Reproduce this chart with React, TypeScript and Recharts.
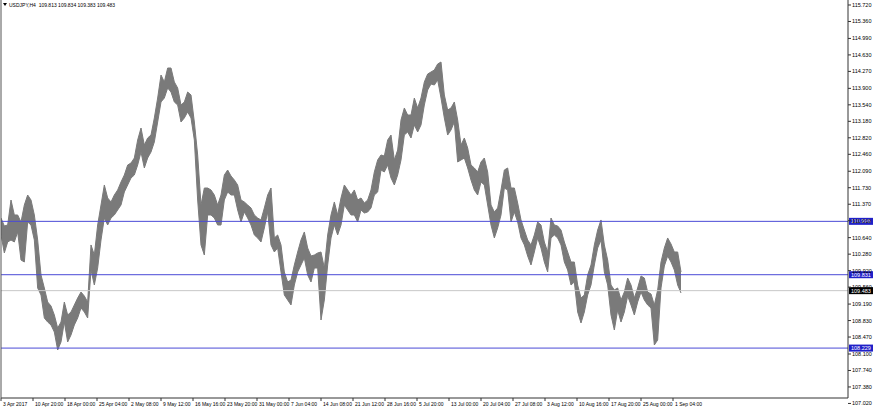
import React from 'react';
import { ComposedChart, Area, XAxis, YAxis, ReferenceLine } from 'recharts';

// each point = one 12h slice of the H4 chart (high / low of the slice)
const highs = [
    111.069, 110.895, 110.916, 111.462, 111.135, 111.135, 110.982, 111.353, 111.571, 111.462,
    111.135, 110.589, 109.825, 109.541, 109.235, 109.148, 108.951, 108.667, 108.798, 109.235,
    108.951, 109.017, 109.170, 109.322, 109.453, 109.366, 109.235, 110.480, 110.261, 110.916,
    111.353, 111.790, 111.506, 111.419, 111.571, 111.681, 111.855, 112.008, 112.226, 112.270,
    112.379, 112.772, 113.034, 112.663, 112.816, 112.881, 113.253, 113.689, 114.191, 114.039,
    114.344, 114.344, 114.039, 113.908, 113.536, 113.602, 113.820, 113.755, 113.165, 112.445,
    111.353, 111.724, 111.724, 111.681, 111.571, 111.353, 111.571, 112.008, 112.117, 111.986,
    111.899, 111.790, 111.462, 111.419, 111.353, 111.288, 111.135, 111.069, 111.026, 111.288,
    111.571, 111.724, 110.633, 110.698, 110.480, 109.890, 109.672, 109.715, 110.043, 110.327,
    110.589, 110.764, 110.414, 110.239, 110.261, 110.305, 110.327, 109.977, 110.698, 111.135,
    111.419, 111.135, 111.506, 111.790, 111.681, 111.571, 111.681, 111.462, 111.506, 111.397,
    111.462, 111.681, 112.074, 112.336, 112.445, 112.423, 112.772, 112.881, 112.336, 112.554,
    113.209, 113.471, 113.318, 113.318, 113.689, 113.471, 113.689, 114.039, 114.213, 114.257,
    114.301, 114.432, 114.475, 113.755, 113.427, 113.471, 113.602, 113.209, 112.663, 112.816,
    112.598, 112.226, 112.161, 112.074, 112.292, 112.379, 112.074, 111.353, 111.200, 111.288,
    111.681, 112.117, 112.161, 111.724, 111.724, 111.397, 111.026, 110.807, 110.589, 110.480,
    110.698, 110.982, 110.916, 110.545, 110.327, 111.069, 110.916, 110.895, 110.807, 110.545,
    110.327, 110.108, 110.108, 109.606, 109.322, 109.388, 109.825, 110.043, 110.480, 110.807,
    111.026, 110.480, 110.152, 109.606, 109.497, 109.541, 109.279, 109.453, 109.759, 109.606,
    109.322, 109.541, 109.803, 109.759, 109.453, 109.410, 109.170, 109.497, 110.108, 110.414,
    110.633, 110.502, 110.327, 110.327, 109.890,
];

const lows = [
    110.698, 110.305, 110.545, 110.589, 110.545, 110.764, 110.152, 110.108, 110.982, 110.916,
    110.589, 109.541, 109.388, 108.886, 108.798, 108.733, 108.580, 108.187, 108.362, 108.798,
    108.362, 108.515, 108.733, 108.886, 109.104, 109.017, 108.886, 109.934, 109.606, 109.977,
    110.589, 111.069, 110.916, 111.069, 111.135, 111.244, 111.353, 111.637, 111.790, 111.943,
    112.008, 112.226, 112.510, 112.161, 112.379, 112.510, 112.729, 113.165, 113.602, 113.689,
    113.908, 113.820, 113.602, 113.536, 113.165, 113.253, 113.384, 113.253, 112.772, 111.462,
    110.480, 110.261, 111.135, 111.135, 111.069, 110.916, 110.916, 111.462, 111.637, 111.571,
    111.571, 111.244, 110.982, 111.200, 111.069, 110.916, 110.698, 110.633, 110.545, 110.851,
    111.200, 110.480, 110.327, 110.414, 109.890, 109.388, 109.279, 109.170, 109.606, 109.890,
    110.043, 110.196, 109.825, 109.672, 109.977, 109.977, 108.842, 109.279, 110.043, 110.633,
    110.916, 110.698, 110.916, 111.353, 111.244, 111.135, 111.135, 110.982, 111.244, 111.178,
    111.200, 111.288, 111.571, 111.637, 112.117, 112.074, 112.226, 111.943, 111.790, 112.008,
    112.336, 112.881, 112.947, 112.816, 113.100, 112.947, 113.100, 113.536, 113.864, 113.995,
    113.973, 114.082, 113.689, 113.253, 112.881, 112.991, 113.165, 112.292, 112.336, 112.379,
    112.161, 111.899, 111.681, 111.571, 111.855, 111.790, 111.353, 110.916, 110.633, 110.851,
    111.135, 111.724, 111.681, 110.982, 111.200, 110.982, 110.633, 110.480, 110.239, 110.043,
    110.327, 110.633, 110.414, 110.108, 109.890, 110.633, 110.698, 110.633, 110.480, 110.108,
    109.934, 109.606, 109.672, 109.017, 108.777, 109.017, 109.388, 109.606, 110.043, 110.414,
    110.589, 109.890, 109.606, 108.951, 108.624, 109.060, 108.798, 109.017, 109.366, 109.170,
    108.951, 109.235, 109.453, 109.279, 109.170, 109.104, 108.296, 108.405, 109.541, 110.021,
    110.239, 110.108, 109.934, 109.606, 109.432,
];

const timeLabels = [
    '3 Apr 2017', '10 Apr 20:00', '18 Apr 00:00', '25 Apr 04:00', '2 May 08:00', '9 May 12:00',
    '16 May 16:00', '23 May 20:00', '31 May 00:00', '7 Jun 04:00', '14 Jun 08:00', '21 Jun 12:00',
    '28 Jun 16:00', '5 Jul 20:00', '13 Jul 00:00', '20 Jul 04:00', '27 Jul 08:00', '3 Aug 12:00',
    '10 Aug 16:00', '17 Aug 20:00', '25 Aug 00:00', '1 Sep 04:00',
];

const priceTicks = [
    115.72, 115.36, 114.99, 114.63, 114.27, 113.9, 113.54, 113.18, 112.82, 112.46, 112.09, 111.73,
    111.37, 111.01, 110.64, 110.28, 109.92, 109.56, 109.19, 108.83, 108.47, 108.1, 107.74, 107.38, 107.02,
];

const levels = [110.996, 109.831, 108.229];
const lastPrice = 109.483;
const header = 'USDJPY,H4  109.813 109.834 109.383 109.483';

const LABEL_STEP = 9.6; // points between two time labels
const FONT = '"Liberation Sans", Arial, sans-serif';

const data = highs.map((h, i) => ({ i, range: [lows[i], h] }));
const timeTicks = timeLabels.map((_, j) => j * LABEL_STEP);

const XTick = (props: any) => {
    const { x, y, index } = props;
    return (
        <text x={x + 2} y={y + 3} fontSize={5} fontFamily={FONT} fill="#000" textAnchor="start">
            {timeLabels[index]}
        </text>
    );
};

const YTick = (props: any) => {
    const { x, y, payload } = props;
    return (
        <text x={x} y={y + 2} fontSize={5.5} fontFamily={FONT} fill="#000" textAnchor="start">
            {payload.value.toFixed(3)}
        </text>
    );
};

const PriceTag = ({ viewBox, value, fill }: any) => {
    const x = viewBox.x + viewBox.width + 1;
    const y = viewBox.y;
    return (
        <g>
            <rect x={x} y={y - 3.5} width={24} height={7} fill={fill} />
            <text x={x + 2} y={y + 2} fontSize={5.5} fontFamily={FONT} fill="#fff">
                {value.toFixed(3)}
            </text>
        </g>
    );
};

export default function App() {
    return (
        <div style={{ position: 'relative', width: 874, height: 411, background: '#fff' }}>
            <style>{`body { margin: 0; }`}</style>
            <ComposedChart width={874} height={411} data={data} margin={{ top: 0, right: 0, bottom: 0, left: 0 }}>
                <XAxis
                    type="number"
                    dataKey="i"
                    domain={[0, 254.1]}
                    ticks={timeTicks}
                    interval={0}
                    tick={<XTick />}
                    tickSize={3}
                    height={13}
                    axisLine={{ stroke: '#333' }}
                    tickLine={{ stroke: '#333' }}
                    allowDataOverflow
                />
                <YAxis yAxisId="frame" orientation="left" width={1} tick={false} tickLine={false} axisLine={{ stroke: '#555' }} />
                <YAxis
                    yAxisId="price"
                    orientation="right"
                    width={26}
                    domain={[107.139, 115.829]}
                    ticks={priceTicks}
                    interval={0}
                    tick={<YTick />}
                    tickSize={3}
                    tickMargin={1}
                    axisLine={{ stroke: '#333' }}
                    tickLine={{ stroke: '#333' }}
                    allowDataOverflow
                />
                <ReferenceLine
                    yAxisId="price"
                    y={lastPrice}
                    stroke="#c8c8c8"
                    label={<PriceTag value={lastPrice} fill="#000" />}
                />
                {levels.map((lv) => (
                    <ReferenceLine
                        key={lv}
                        yAxisId="price"
                        y={lv}
                        stroke="#4a4ad6"
                        label={<PriceTag value={lv} fill="#2020c8" />}
                    />
                ))}
                <Area
                    yAxisId="price"
                    dataKey="range"
                    type="linear"
                    stroke="#7a7a7a"
                    strokeWidth={1}
                    fill="#7a7a7a"
                    fillOpacity={1}
                    isAnimationActive={false}
                    dot={false}
                    activeDot={false}
                />
            </ComposedChart>
            <svg width={200} height={12} style={{ position: 'absolute', left: 0, top: 0 }}>
                <path d="M3,3 L7,3 L5,6 Z" fill="#000" />
                <text x={9} y={7} fontSize={5} fontFamily={FONT} fill="#000" xmlSpace="preserve">
                    {header}
                </text>
            </svg>
        </div>
    );
}
